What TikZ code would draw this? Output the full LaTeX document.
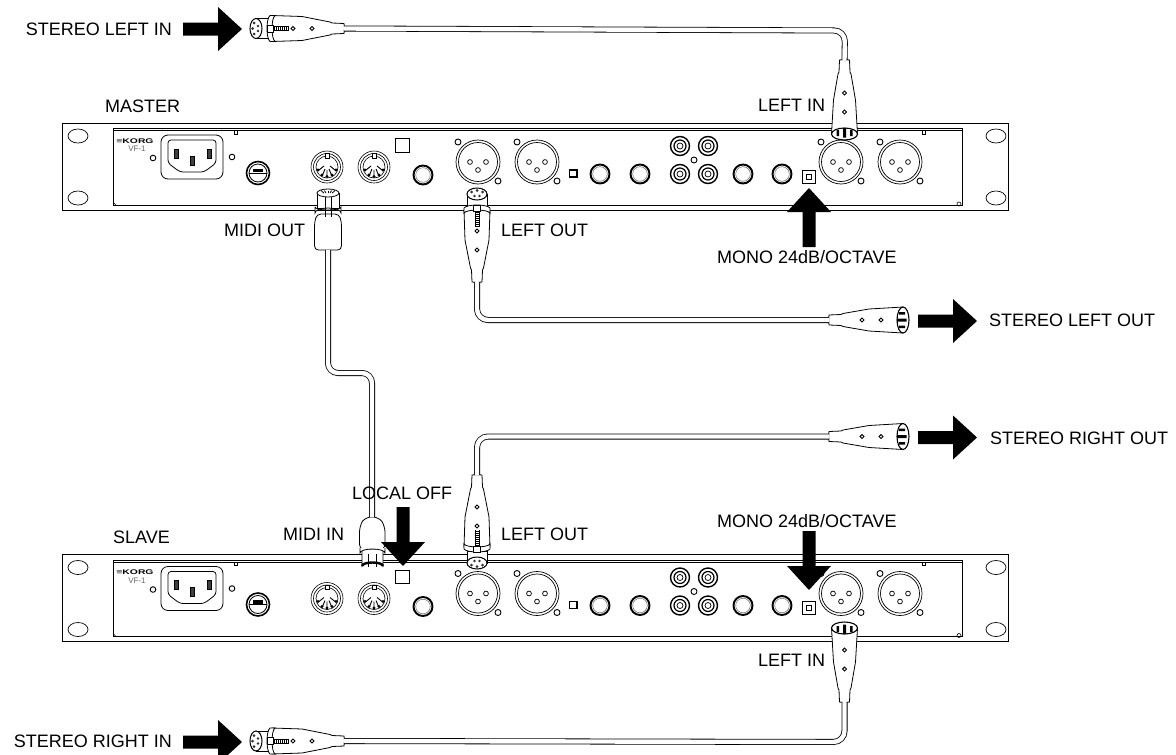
\documentclass[tikz,border=0pt]{standalone}
\usepackage{fontspec}
\setmainfont{Liberation Sans}
\tikzset{
  x=1pt,y=-1pt,
  lbl/.style={inner sep=0pt,font=\fontsize{18}{20}\selectfont},
  cable/.style={draw=black,line width=.8pt,double=white,double distance=4.4pt,rounded corners=11pt},
  wh/.style={draw=black,fill=white,line width=.8pt},
  bigarrow/.pic={\fill[black] (0,-6.5)--(35,-6.5)--(35,-22)--(59,0)--(35,22)--(35,6.5)--(0,6.5)--cycle;},
  jack/.pic={\draw[line width=1.9pt,fill=white] (0,0) circle (9.5);\draw[line width=.5pt,black!60] (0,0) circle (7.3);},
  rca/.pic={\draw[line width=1.4pt,fill=white] (0,0) circle (9.5);\draw[line width=1.2pt] (0,0) circle (6);\draw[line width=.7pt] (0,0) circle (3);},
  din/.pic={\draw[line width=.6pt,fill=white] (0,0) circle (16);\draw[line width=.6pt] (0,0) circle (13.5) (0,0) circle (11);
    \fill[black] (-9,3) circle (1.6) (-5,8) circle (1.6) (0,9.5) circle (1.6) (5,8) circle (1.6) (9,3) circle (1.6);
    \draw[line width=.9pt] (-8,3)--(-3,-1) (-4.5,8)--(-2,2) (0,9)--(0,3) (4.5,8)--(2,2) (8,3)--(3,-1);
    \draw[line width=.6pt,fill=white] (-2,-13.5) rectangle (2,-9);},
  screw/.style={draw=black,fill=white,line width=.9pt},
  xlr/.pic={\draw[line width=.7pt,fill=white] (0,0) circle (22);\draw[line width=.7pt] (0,0) circle (19.5);
    \draw[screw] (-20,-20) circle (3) (20,19) circle (3);
    \draw[line width=.7pt] (-8,0) circle (2.4) (8,0) circle (2.4) (0,8) circle (2.4);},
  panel/.pic={
    \draw[line width=.9pt,fill=white] (62,123) rectangle (1008,210);
    \draw[line width=.9pt] (113,128.5) -- (962,128.5) -- (962,205) -- (113,205) -- cycle;
    \draw[line width=.6pt] (113,130.5) -- (962,130.5);
    \draw[line width=.7pt] (234.5,130.5) rectangle (237.5,134) (922.5,130.5) rectangle (925.5,134);
    \draw[line width=.6pt] (113,202) -- (116,205) (959,204) circle (2);
    \foreach \hx in {78,996}{\foreach \hy in {136,198}{\draw[line width=.7pt] (\hx,\hy) ellipse [x radius=10,y radius=7];}}
    \node[font=\bfseries\fontsize{9}{9}\selectfont,inner sep=0pt] (-logo) at (135,141) {\scalebox{1.15}[.75]{≡KORG}};
    \node[font=\fontsize{8}{8}\selectfont,text=black!60,inner sep=0pt] (-vf) at (137,149) {VF-1};
    \draw[line width=.8pt,rounded corners=7pt] (161,135) rectangle (223,179);
    \draw[line width=.8pt,rounded corners=3pt] (168,140)--(216,140)--(216,163)--(204,172)--(180,172)--(168,163)--cycle;
    \draw[line width=.6pt,fill=black!75] (174,149) rectangle (178,158) (207,149) rectangle (211,158) (190,156) rectangle (194,165);
    \draw[screw] (153,158) circle (2.8) (232,157) circle (2.8);
    \draw[line width=1.6pt] (258,173) circle (11.5);
    \draw[line width=.8pt] (258,173) circle (9);
    \draw[line width=1pt] (249,173)--(267,173);
    \fill[black] (253,168.5) rectangle (263,172);
    \pic at (327,167) {din}; \pic at (374,167) {din};
    \draw[line width=.6pt] (395.5,138.5) rectangle (409,152);
    \pic at (423,175) {jack};
    \pic at (478,162) {xlr}; \pic at (537,162) {xlr};
    \draw[line width=1.3pt] (569.5,170) rectangle (577,177);
    \pic at (600,174) {jack}; \pic at (640,174) {jack};
    \pic at (680,146) {rca}; \pic at (708,146) {rca}; \pic at (680,174) {rca}; \pic at (708,174) {rca};
    \draw[screw] (694,160) circle (3);
    \pic at (743,174) {jack}; \pic at (782,174) {jack};
    \draw[line width=.8pt] (802.5,170) rectangle (815.5,183);
    \draw[line width=.6pt] (806.5,174) rectangle (811.5,179);
    \pic at (841,162) {xlr}; \pic at (900,162) {xlr};
  },
  maleplug/.pic={
    \draw[wh] (80,-5)--(68,-5.5)--(66,-6.5)--(40,-11)--(6,-13)--(6,13)--(40,11)--(66,6.5)--(68,5.5)--(80,5) to[bend right=10] cycle;
    \draw[wh,line width=1.1pt] (6,0) ellipse [x radius=6,y radius=13];
    \fill[black] (4,-8) rectangle (10,-5.5) (2.5,-1.5) rectangle (12,1.5) (4,5.5) rectangle (10,8);
    \draw[screw] (28,0) circle (1.9) (47,0) circle (1.9);
    \coordinate (-end) at (80,0);
  },
  femplug/.pic={
    \draw[wh] (94,-5)--(82,-5.5)--(80,-6.5)--(52,-12)--(22,-13)--(22,13)--(52,12)--(80,6.5)--(82,5.5)--(94,5) to[bend right=10] cycle;
    \draw[wh] (6,-10) -- (18,-10) -- (18,10) -- (6,10) -- cycle;
    \draw[wh,line width=1pt] (6,0) ellipse [x radius=6,y radius=10];
    \fill[black!80] (4,-5.5) circle (1.5) (4,5.5) circle (1.5) (2.5,0) circle (1.5) (8,-2.5) circle (1.3) (8,2.5) circle (1.3);
    \draw[wh] (20,-13) .. controls (16,-10) and (16,10) .. (20,13) -- (25,13) .. controls (21,10) and (21,-10) .. (25,-13) -- cycle;
    \draw[wh] (17,-3.5) rectangle (23,3.5);
    \foreach \tx in {24,26,...,38}{\draw[line width=.7pt] (\tx,-2.5)--(\tx,2.5);}
    \draw[line width=.6pt] (23,-2)--(39,-2) (23,2)--(39,2);
    \draw[screw] (43,0) circle (1.9) (62,0) circle (1.9);
    \coordinate (-end) at (94,0);
  }
}
\begin{document}
\begin{tikzpicture}
\useasboundingbox (0,0) rectangle (1176,755);
% panels
\pic (pm) at (0,0) {panel};
\pic (ps) at (0,431.5) {panel};
% plugs
\pic (sliplug) at (250,28.5) {femplug};
\pic[rotate=90] (liplug) at (844.5,140) {maleplug};
\pic[rotate=-90] (loplug) at (477,188) {femplug};
\pic[xscale=-1] (sloplug) at (909,320) {maleplug};
\pic[rotate=90] (sroplugb) at (477,569) {femplug};
\pic[xscale=-1] (sroplug) at (909,436.5) {maleplug};
\pic[rotate=-90] (riplug) at (844.5,622) {maleplug};
\pic (sriplug) at (250,741) {femplug};
% midi out plug
\draw[wh,rounded corners=4pt] (314.5,250) -- (314.5,222) -- (317,214) -- (339,214) -- (341.5,222) -- (341.5,250) -- cycle;
\coordinate (moend) at (328,250);
\draw[wh] (317,193) -- (317,208) -- (339,208) -- (339,193);
\draw[wh] (328,193) ellipse [x radius=11,y radius=4];
\foreach \sx in {-7,-3.5,0,3.5,7}{\draw[line width=.8pt] (328+\sx,190.5)--(328+0.6*\sx,193);}
\draw[wh] (315,207) -- (315,213) arc (180:360:13 and 5) -- (341,207) arc (0:180:13 and 3);
\draw[line width=.7pt] (325,197)--(325,217) (331,197)--(331,217);
% midi in plug
\coordinate (miend) at (372,517);
\draw[wh,rounded corners=6pt] (359.5,550) -- (359.5,526) -- (365,517) -- (379,517) -- (385,526) -- (385,550) -- cycle;
\draw[wh] (362,550) -- (362,566) arc (180:360:10.5 and 3.5) -- (383,550);
\draw[line width=2.4pt] (362,566) arc (180:360:10.5 and 3.5);
\draw[wh] (360,548) -- (360,553) arc (180:360:12.5 and 4) -- (385,548);
\draw[line width=.7pt] (368,554)--(368,567) (376,554)--(376,567);
% cables
\draw[cable] (sliplug-end) -- (845,30.5) -- (liplug-end);
\draw[cable] (loplug-end) -- (477,320) -- (sloplug-end);
\draw[cable] (sroplugb-end) -- (477,436.5) -- (sroplug-end);
\draw[cable] (riplug-end) -- (844.5,742) -- (sriplug-end);
\draw[cable,rounded corners=10pt] (moend) -- (328,373) -- (372,373) -- (miend);
% arrows
\pic (a1) at (183,29) {bigarrow};
\pic (a2) at (918,321) {bigarrow};
\pic (a3) at (918,437.5) {bigarrow};
\pic (a4) at (183,742) {bigarrow};
\pic[rotate=90] (a5) at (809,247) {bigarrow};
\pic[rotate=-90] (a6) at (809,531) {bigarrow};
\pic[rotate=-90] (a7) at (403,507) {bigarrow};
% labels
\node[lbl,anchor=east] (t1) at (172,29) {STEREO LEFT IN};
\node[lbl,anchor=west] (t2) at (105,106) {MASTER};
\node[lbl,anchor=west] (t3) at (758,105) {LEFT IN};
\node[lbl,anchor=west] (t4) at (224,230) {MIDI OUT};
\node[lbl,anchor=west] (t5) at (501,230) {LEFT OUT};
\node[lbl,anchor=west] (t6) at (717,257) {MONO 24dB/OCTAVE};
\node[lbl,anchor=west] (t7) at (989,320) {STEREO LEFT OUT};
\node[lbl,anchor=west] (t8) at (990,438) {STEREO RIGHT OUT};
\node[lbl,anchor=west] (t9) at (352,493) {LOCAL OFF};
\node[lbl,anchor=west] (t10) at (717,521) {MONO 24dB/OCTAVE};
\node[lbl,anchor=west] (t11) at (113,537) {SLAVE};
\node[lbl,anchor=west] (t12) at (283,534) {MIDI IN};
\node[lbl,anchor=west] (t13) at (501,534) {LEFT OUT};
\node[lbl,anchor=west] (t14) at (758,660) {LEFT IN};
\node[lbl,anchor=east] (t15) at (172,741) {STEREO RIGHT IN};
\end{tikzpicture}
\end{document}
